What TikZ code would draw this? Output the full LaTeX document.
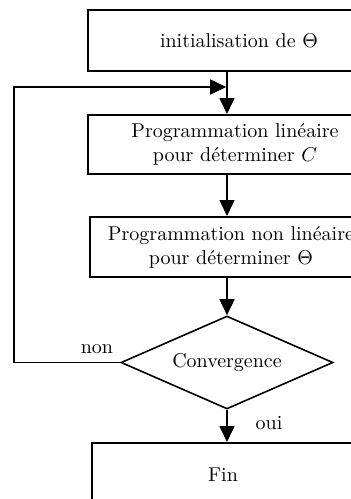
\documentclass[tikz,border=0pt]{standalone}
\usepackage{tikz}
\usetikzlibrary{shapes.geometric, arrows.meta}
\tikzset{
  bloc/.style={draw, line width=1pt, align=center, inner sep=0pt},
  test/.style={draw, diamond, line width=0.8pt, aspect=2.28, inner sep=0pt},
  fleche/.style={-{Triangle[length=8pt, width=7.5pt]}, line width=0.8pt},
}
\begin{document}
\begin{tikzpicture}[x=0.5pt, y=-0.5pt]

    \useasboundingbox (0,0) rectangle (351,499);
    \clip (0,0) rectangle (351,499);

    \node[bloc, minimum width=151pt, minimum height=30.5pt] (init) at (239, 40.5) {initialisation de $\Theta$};
    \node[bloc, minimum width=147pt, minimum height=29.5pt] (lin) at (235, 144.5) {Programmation lin\'eaire\\pour d\'eterminer $C$};
    \node[bloc, minimum width=141pt, minimum height=30pt] (nonlin) at (231, 247) {Programmation non lin\'eaire\\pour d\'eterminer $\Theta$};
    \node[test, minimum width=106pt, minimum height=46.5pt] (conv) at (227, 362.5) {Convergence};
    \node[bloc, minimum width=131pt, minimum height=32pt] (fin) at (223, 475) {Fin};

    \draw[fleche] (init.south -| conv.north) -- (lin.north -| conv.north);
    \draw[fleche] (lin.south -| conv.north) -- (nonlin.north -| conv.north);
    \draw[fleche] (nonlin.south -| conv.north) -- (conv.north);
    \draw[fleche] (conv.south) -- (fin.north -| conv.south);

    % boucle de retour
    \coordinate (retour) at (14, 87);
    \draw[fleche, shorten >=0.4pt] (conv.west) -| (retour) -- (retour -| conv.north);

    \node (non) at (97, 349) {non};
    \node (oui) at (269, 423) {oui};

\end{tikzpicture}
\end{document}
